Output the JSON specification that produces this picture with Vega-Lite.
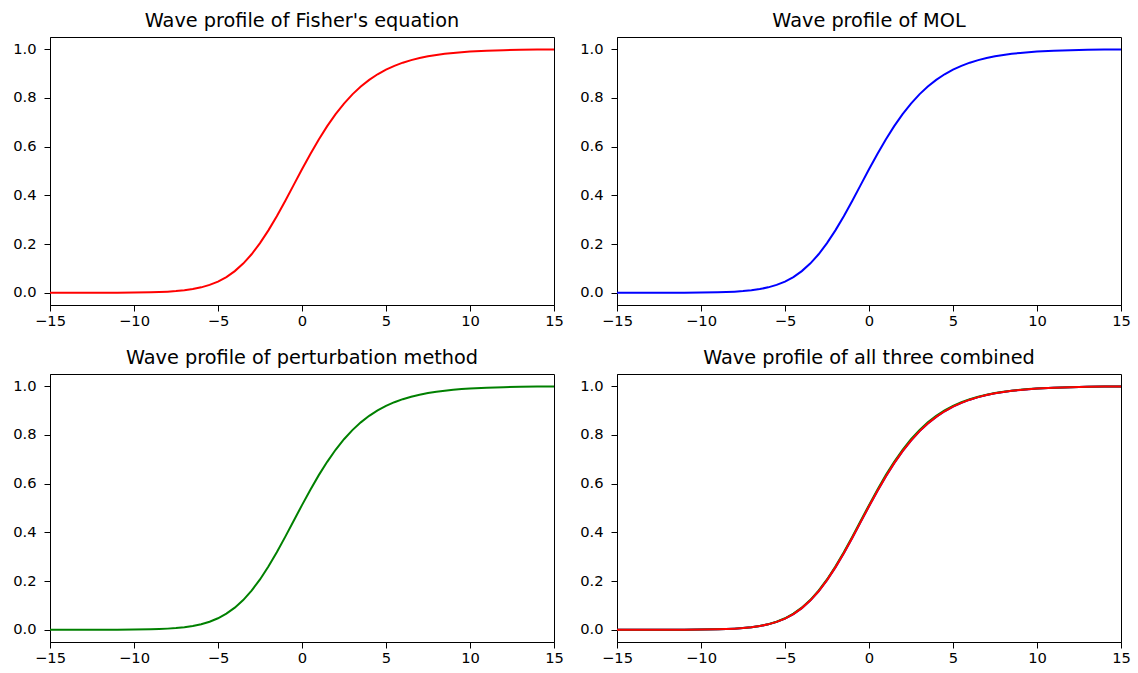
{
  "$schema": "https://vega.github.io/schema/vega-lite/v6.json",
  "background": "white",
  "padding": {"left": 12, "top": 11, "right": 5, "bottom": 5},
  "datasets": {
    "w": [
      {"x": -15, "F": 0.00002, "M": 0.00002, "P": 0.00002},
      {"x": -14, "F": 0.00004, "M": 0.00004, "P": 0.00004},
      {"x": -13, "F": 0.0001, "M": 0.0001, "P": 0.0001},
      {"x": -12, "F": 0.00015, "M": 0.00015, "P": 0.00016},
      {"x": -11, "F": 0.00035, "M": 0.00035, "P": 0.00037},
      {"x": -10, "F": 0.0009, "M": 0.0009, "P": 0.00095},
      {"x": -9, "F": 0.002, "M": 0.002, "P": 0.0021},
      {"x": -8.5, "F": 0.0031, "M": 0.0031, "P": 0.0032},
      {"x": -8, "F": 0.0047, "M": 0.0047, "P": 0.0049},
      {"x": -7.5, "F": 0.007, "M": 0.007, "P": 0.0073},
      {"x": -7, "F": 0.0104, "M": 0.0104, "P": 0.0108},
      {"x": -6.5, "F": 0.0154, "M": 0.0154, "P": 0.0159},
      {"x": -6, "F": 0.0225, "M": 0.0225, "P": 0.0232},
      {"x": -5.5, "F": 0.0325, "M": 0.0325, "P": 0.0334},
      {"x": -5, "F": 0.0462, "M": 0.0462, "P": 0.0474},
      {"x": -4.5, "F": 0.0648, "M": 0.0648, "P": 0.0663},
      {"x": -4, "F": 0.0891, "M": 0.0891, "P": 0.0909},
      {"x": -3.5, "F": 0.12, "M": 0.12, "P": 0.1222},
      {"x": -3, "F": 0.1582, "M": 0.1582, "P": 0.1608},
      {"x": -2.5, "F": 0.2038, "M": 0.2038, "P": 0.2068},
      {"x": -2, "F": 0.2563, "M": 0.2563, "P": 0.2597},
      {"x": -1.5, "F": 0.3147, "M": 0.3147, "P": 0.3185},
      {"x": -1, "F": 0.3773, "M": 0.3773, "P": 0.3815},
      {"x": -0.5, "F": 0.4421, "M": 0.4421, "P": 0.4467},
      {"x": 0, "F": 0.507, "M": 0.507, "P": 0.5119},
      {"x": 0.5, "F": 0.57, "M": 0.57, "P": 0.5752},
      {"x": 1, "F": 0.6295, "M": 0.6295, "P": 0.6349},
      {"x": 1.5, "F": 0.6841, "M": 0.6841, "P": 0.6896},
      {"x": 2, "F": 0.7334, "M": 0.7334, "P": 0.7389},
      {"x": 2.5, "F": 0.7768, "M": 0.7768, "P": 0.7822},
      {"x": 3, "F": 0.8146, "M": 0.8146, "P": 0.8197},
      {"x": 3.5, "F": 0.8468, "M": 0.8468, "P": 0.8515},
      {"x": 4, "F": 0.8741, "M": 0.8741, "P": 0.8783},
      {"x": 4.5, "F": 0.8971, "M": 0.8971, "P": 0.9007},
      {"x": 5, "F": 0.9161, "M": 0.9161, "P": 0.9192},
      {"x": 5.5, "F": 0.9317, "M": 0.9317, "P": 0.9343},
      {"x": 6, "F": 0.9446, "M": 0.9446, "P": 0.9467},
      {"x": 6.5, "F": 0.9552, "M": 0.9552, "P": 0.9569},
      {"x": 7, "F": 0.9638, "M": 0.9638, "P": 0.9652},
      {"x": 7.5, "F": 0.9708, "M": 0.9708, "P": 0.9719},
      {"x": 8, "F": 0.9765, "M": 0.9765, "P": 0.9774},
      {"x": 8.5, "F": 0.981, "M": 0.981, "P": 0.9817},
      {"x": 9, "F": 0.9847, "M": 0.9847, "P": 0.9853},
      {"x": 9.5, "F": 0.9877, "M": 0.9877, "P": 0.9882},
      {"x": 10, "F": 0.9901, "M": 0.9901, "P": 0.9905},
      {"x": 11, "F": 0.9936, "M": 0.9936, "P": 0.9939},
      {"x": 12, "F": 0.9959, "M": 0.9959, "P": 0.9961},
      {"x": 13, "F": 0.9973, "M": 0.9973, "P": 0.9974},
      {"x": 14, "F": 0.9983, "M": 0.9983, "P": 0.9984},
      {"x": 15, "F": 0.9989, "M": 0.9989, "P": 0.999}
    ]
  },
  "config": {
    "view": {"stroke": "black", "strokeWidth": 1},
    "axis": {
      "grid": false,
      "domainColor": "black",
      "tickColor": "black",
      "tickSize": 6,
      "labelColor": "black",
      "labelFont": "DejaVu Sans",
      "labelFontSize": 14.7,
      "labelFlush": false,
      "labelOverlap": false,
      "title": null
    },
    "axisX": {"labelPadding": 2},
    "axisY": {"labelPadding": 8},
    "title": {"font": "DejaVu Sans", "fontSize": 19.3, "fontWeight": "normal", "color": "black", "offset": 5.5}
  },
  "columns": 2,
  "bounds": "flush",
  "spacing": {"row": 69, "column": 63},
  "concat": [
    {
      "title": "Wave profile of Fisher's equation",
      "width": 504, "height": 268,
      "data": {"name": "w"},
      "mark": {"type": "line", "color": "#ff0000", "strokeWidth": 2, "clip": true},
      "encoding": {
        "x": {"field": "x", "type": "quantitative", "scale": {"domain": [-15, 15], "nice": false, "zero": false}, "axis": {"values": [-15, -10, -5, 0, 5, 10, 15], "labelExpr": "replace(datum.label, '-', '−')"}},
        "y": {"field": "F", "type": "quantitative", "scale": {"domain": [-0.05, 1.05], "nice": false, "zero": false}, "axis": {"values": [0, 0.2, 0.4, 0.6, 0.8, 1.0], "format": ".1f"}}
      }
    },
    {
      "title": "Wave profile of MOL",
      "width": 504, "height": 268,
      "data": {"name": "w"},
      "mark": {"type": "line", "color": "#0000ff", "strokeWidth": 2, "clip": true},
      "encoding": {
        "x": {"field": "x", "type": "quantitative", "scale": {"domain": [-15, 15], "nice": false, "zero": false}, "axis": {"values": [-15, -10, -5, 0, 5, 10, 15], "labelExpr": "replace(datum.label, '-', '−')"}},
        "y": {"field": "M", "type": "quantitative", "scale": {"domain": [-0.05, 1.05], "nice": false, "zero": false}, "axis": {"values": [0, 0.2, 0.4, 0.6, 0.8, 1.0], "format": ".1f"}}
      }
    },
    {
      "title": "Wave profile of perturbation method",
      "width": 504, "height": 268,
      "data": {"name": "w"},
      "mark": {"type": "line", "color": "#008000", "strokeWidth": 2, "clip": true},
      "encoding": {
        "x": {"field": "x", "type": "quantitative", "scale": {"domain": [-15, 15], "nice": false, "zero": false}, "axis": {"values": [-15, -10, -5, 0, 5, 10, 15], "labelExpr": "replace(datum.label, '-', '−')"}},
        "y": {"field": "P", "type": "quantitative", "scale": {"domain": [-0.05, 1.05], "nice": false, "zero": false}, "axis": {"values": [0, 0.2, 0.4, 0.6, 0.8, 1.0], "format": ".1f"}}
      }
    },
    {
      "title": "Wave profile of all three combined",
      "width": 504, "height": 268,
      "data": {"name": "w"},
      "encoding": {
        "x": {"field": "x", "type": "quantitative", "scale": {"domain": [-15, 15], "nice": false, "zero": false}, "axis": {"values": [-15, -10, -5, 0, 5, 10, 15], "labelExpr": "replace(datum.label, '-', '−')"}}
      },
      "layer": [
        {
          "mark": {"type": "line", "color": "#0000ff", "strokeWidth": 2, "clip": true},
          "encoding": {"y": {"field": "M", "type": "quantitative", "scale": {"domain": [-0.05, 1.05], "nice": false, "zero": false}, "axis": {"values": [0, 0.2, 0.4, 0.6, 0.8, 1.0], "format": ".1f"}}}
        },
        {
          "mark": {"type": "line", "color": "#008000", "strokeWidth": 2, "clip": true},
          "encoding": {"y": {"field": "P", "type": "quantitative"}}
        },
        {
          "mark": {"type": "line", "color": "#ff0000", "strokeWidth": 2, "clip": true},
          "encoding": {"y": {"field": "F", "type": "quantitative"}}
        }
      ]
    }
  ]
}
